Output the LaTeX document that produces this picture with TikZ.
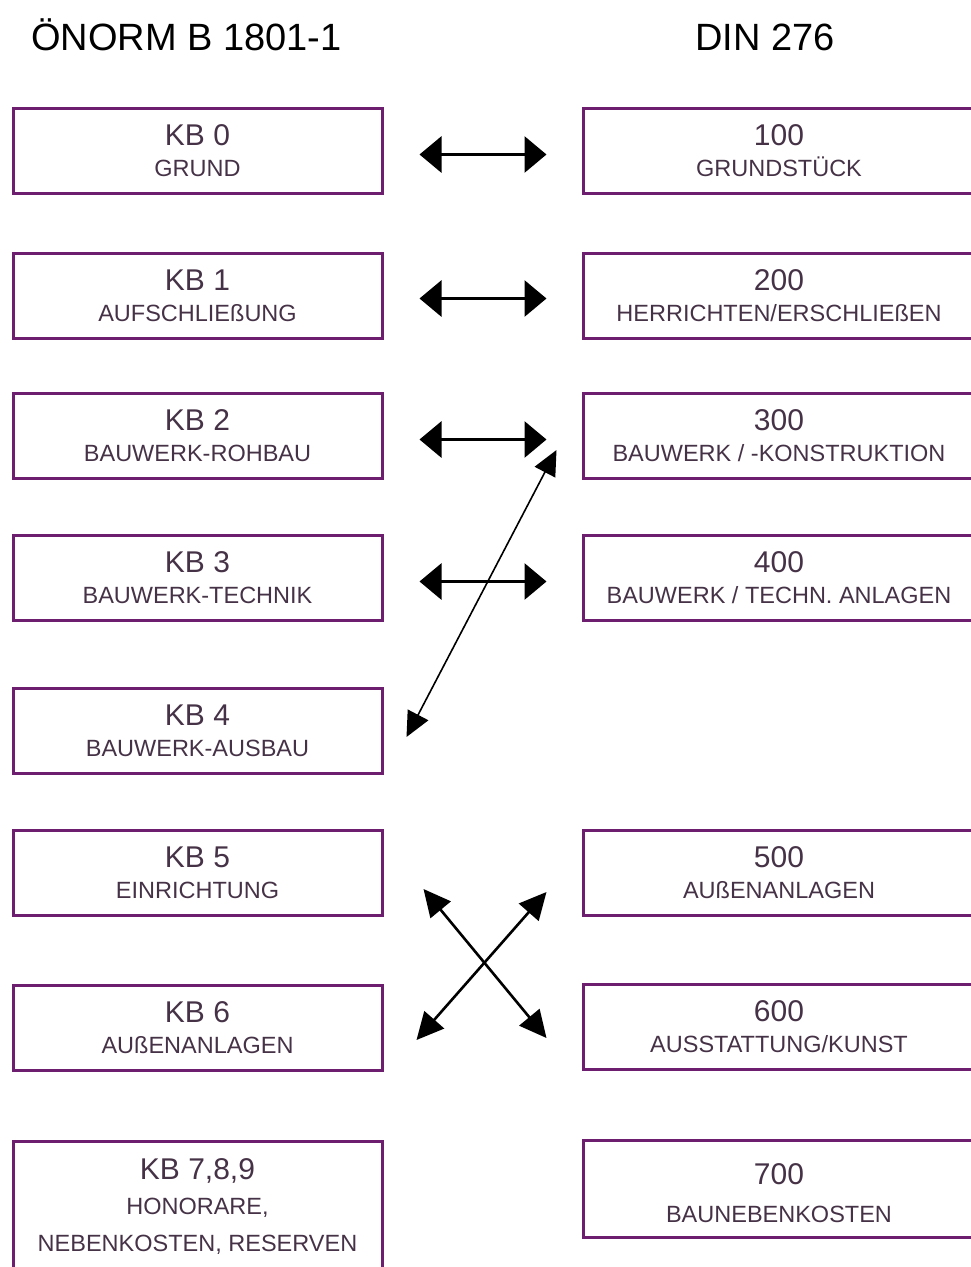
\documentclass[tikz,border=0pt]{standalone}
\usepackage{fontspec}
\setmainfont{Liberation Sans}
\usetikzlibrary{arrows.meta}
\definecolor{boxline}{RGB}{110,30,110}
\definecolor{boxtext}{RGB}{70,50,70}
\newcommand{\kbnum}[1]{{\fontsize{30}{31}\selectfont #1}}
\begin{document}
\begin{tikzpicture}[x=1pt,y=1pt]
              \tikzstyle{head}=[inner sep=0pt, anchor=base, font=\fontsize{38}{40}\selectfont]
              \tikzstyle{kbbox}=[draw=boxline, line width=3pt, minimum width=369pt, minimum height=85pt, inner sep=0pt, align=center, text=boxtext, font=\fontsize{23.5}{31}\selectfont]
              \tikzstyle{dinbox}=[kbbox, minimum width=392pt]
              \tikzstyle{dbl}=[line width=3pt, {Triangle[length=22pt,width=36pt]}-{Triangle[length=22pt,width=36pt]}]
              \tikzstyle{crs}=[line width=2.6pt, {Triangle[length=27pt,width=26pt]}-{Triangle[length=27pt,width=26pt]}]
              \tikzstyle{lng}=[line width=1.6pt, {Triangle[length=25pt,width=23pt]}-{Triangle[length=25pt,width=23pt]}]
              \useasboundingbox (0,0) rectangle (971,-1267);
              \clip (0,0) rectangle (971,-1267);
              \node[head] (onorm) at (186.5,-50) {ÖNORM B 1801-1};
              \node[head] (din) at (765,-50) {DIN 276};
              \node[kbbox] (kb0) at (197.5,-150.5) {\kbnum{KB 0}\\GRUND};
              \node[kbbox] (kb1) at (197.5,-295.5) {\kbnum{KB 1}\\AUFSCHLIEßUNG};
              \node[kbbox] (kb2) at (197.5,-435.5) {\kbnum{KB 2}\\BAUWERK-ROHBAU};
              \node[kbbox] (kb3) at (197.5,-577.5) {\kbnum{KB 3}\\BAUWERK-TECHNIK};
              \node[kbbox] (kb4) at (197.5,-730.5) {\kbnum{KB 4}\\BAUWERK-AUSBAU};
              \node[kbbox] (kb5) at (197.5,-872.5) {\kbnum{KB 5}\\EINRICHTUNG};
              \node[kbbox] (kb6) at (197.5,-1027.5) {\kbnum{KB 6}\\AUßENANLAGEN};
              \node[kbbox, minimum height=140pt, font=\fontsize{23.5}{36}\selectfont] (kb7) at (197.5,-1211) {\kbnum{KB 7,8,9}\\[-1pt]HONORARE,\\[1pt]NEBENKOSTEN, RESERVEN\rule[-11pt]{0pt}{11pt}};
              \node[dinbox] (d100) at (779,-150.5) {\kbnum{100}\\GRUNDSTÜCK};
              \node[dinbox] (d200) at (779,-295.5) {\kbnum{200}\\HERRICHTEN/ERSCHLIEßEN};
              \node[dinbox] (d300) at (779,-435.5) {\kbnum{300}\\BAUWERK / -KONSTRUKTION};
              \node[dinbox] (d400) at (779,-577.5) {\kbnum{400}\\BAUWERK / TECHN. ANLAGEN};
              \node[dinbox] (d500) at (779,-872.5) {\kbnum{500}\\AUßENANLAGEN};
              \node[dinbox] (d600) at (779,-1026.5) {\kbnum{600}\\AUSSTATTUNG/KUNST};
              \node[dinbox, minimum height=97pt, font=\fontsize{23.5}{38}\selectfont] (d700) at (779,-1188.5) {\rule{0pt}{31pt}\kbnum{700}\\BAUNEBENKOSTEN};
              \draw[dbl] ([xshift=36pt,yshift=-4pt]kb0.east) -- ([xshift=-35pt,yshift=-4pt]d100.west);
              \draw[dbl] ([xshift=36pt,yshift=-3pt]kb1.east) -- ([xshift=-35pt,yshift=-3pt]d200.west);
              \draw[dbl] ([xshift=36pt,yshift=-4pt]kb2.east) -- ([xshift=-35pt,yshift=-4pt]d300.west);
              \draw[dbl] ([xshift=36pt,yshift=-4pt]kb3.east) -- ([xshift=-35pt,yshift=-4pt]d400.west);
              \draw[lng] ([shift={(23,-6.5)}]kb4.east) -- ([shift={(-25,-14.5)}]d300.west);
              \draw[crs] ([shift={(40,-16.5)}]kb5.east) -- ([shift={(-35,-11.5)}]d600.west);
              \draw[crs] ([shift={(33,-12.5)}]kb6.east) -- ([shift={(-35,-19.5)}]d500.west);
            \end{tikzpicture}
\end{document}
